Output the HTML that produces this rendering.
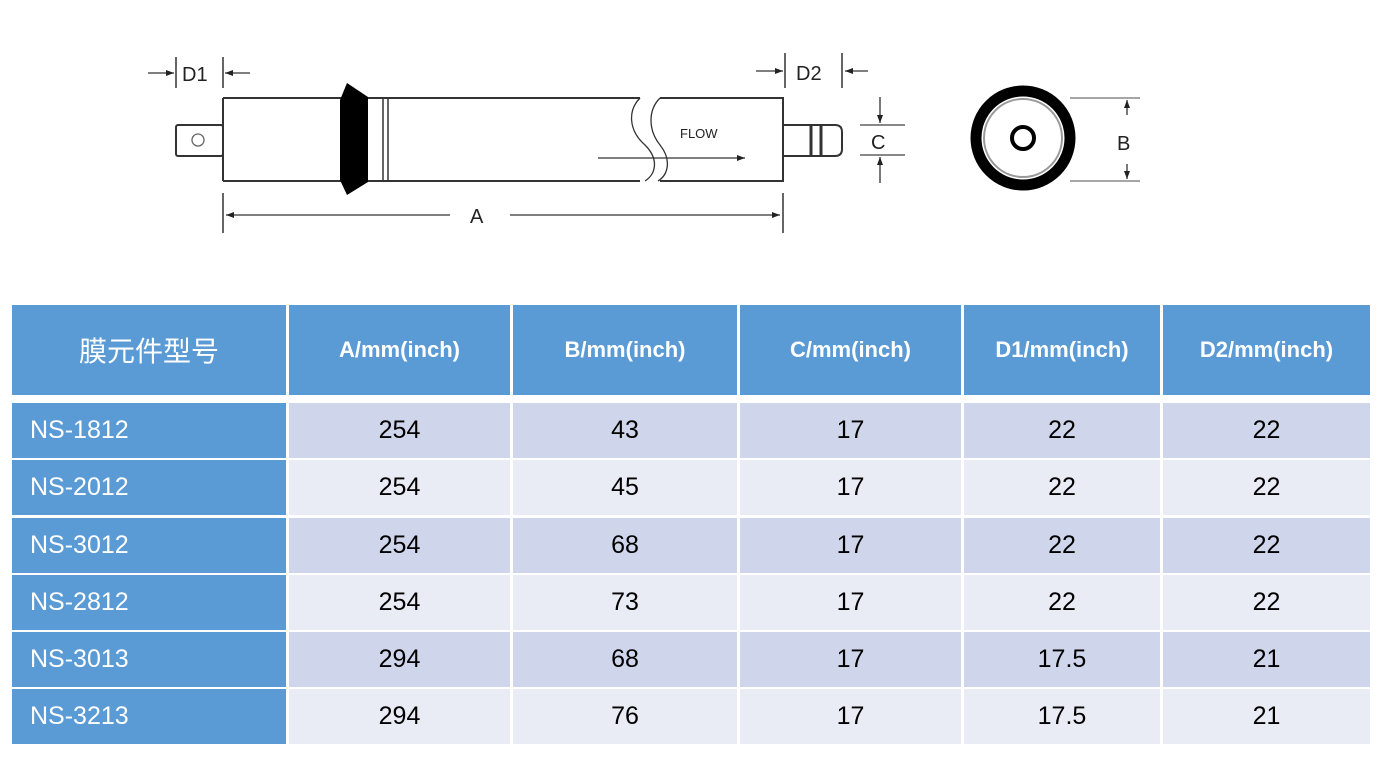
<!DOCTYPE html>
<html><head><meta charset="utf-8"><style>
body{margin:0;width:1385px;height:763px;background:#fff;position:relative;overflow:hidden;font-family:"Liberation Sans","Noto Sans CJK SC",sans-serif}
.c{position:absolute;display:flex;align-items:center;justify-content:center;font-size:25px;color:#000}
.h{background:#5B9BD5;color:#fff;font-weight:bold;font-size:22px}
.f{background:#5B9BD5;color:#fff;justify-content:flex-start;padding-left:18px;box-sizing:border-box}
.o{background:#CFD5EA}.e{background:#E9EBF5}
</style></head><body>
<svg width="1385" height="300" style="position:absolute;left:0;top:0" font-family="Liberation Sans, sans-serif">
<defs><marker id="ar" markerWidth="8" markerHeight="6" refX="8" refY="3" orient="auto" markerUnits="userSpaceOnUse"><path d="M0,0 L8,3 L0,6z" fill="#222"/></marker></defs>
<g stroke="#333" stroke-width="2" fill="none">
<path d="M223,98 H640 M223,181 H640 M223,98 V181"/>
<path d="M660,98 H783 V181 H660"/>
<path d="M640,98 C628,110 628,130 645,145 C660,160 655,175 645,181" stroke-width="1.3"/>
<path d="M660,98 C648,110 648,130 660,145 C672,160 668,175 658,181" stroke-width="1.3"/>
<rect x="176" y="125" width="47" height="31" rx="2"/>
<circle cx="198" cy="140" r="6" stroke-width="1.3" stroke="#666"/>
<path d="M383,98 V181 M388,98 V181" stroke-width="1.5"/>
<path d="M783,125 H835 Q842,125 842,132 V149 Q842,156 835,156 H783"/>
<path d="M811,125 V156 M821,125 V156" stroke-width="3"/>
<path d="M176,57 V88 M223,57 V88" stroke-width="1.5"/>
<path d="M148,73 H174" stroke-width="1.3" marker-end="url(#ar)"/>
<path d="M250,73 H225" stroke-width="1.3" marker-end="url(#ar)"/>
<path d="M785,53 V88 M842,53 V88" stroke-width="1.5"/>
<path d="M756,71 H783" stroke-width="1.3" marker-end="url(#ar)"/>
<path d="M868,71 H845" stroke-width="1.3" marker-end="url(#ar)"/>
<path d="M223,193 V233 M783,193 V233" stroke-width="1.5"/>
<path d="M450,215 H226" stroke-width="1.3" marker-end="url(#ar)"/>
<path d="M510,215 H780" stroke-width="1.3" marker-end="url(#ar)"/>
<path d="M598,158 H745" stroke-width="1.3" marker-end="url(#ar)"/>
<path d="M860,125 H905 M860,155 H905" stroke="#888" stroke-width="2"/>
<path d="M880,97 V123" stroke-width="1.3" marker-end="url(#ar)"/>
<path d="M880,183 V157" stroke-width="1.3" marker-end="url(#ar)"/>
<path d="M1070,98 H1140 M1070,181 H1140" stroke="#888" stroke-width="1.5"/>
<path d="M1127,115 V100" stroke-width="1.3" marker-end="url(#ar)"/>
<path d="M1127,164 V179" stroke-width="1.3" marker-end="url(#ar)"/>
</g>
<polygon points="340,100 347,83 368,97 368,182 347,195 340,180" fill="#000"/>
<circle cx="1023" cy="138" r="47" fill="none" stroke="#000" stroke-width="11"/>
<circle cx="1023" cy="138" r="39" fill="none" stroke="#999" stroke-width="2"/>
<circle cx="1023" cy="138" r="11" fill="none" stroke="#000" stroke-width="4"/>
<text x="182" y="81" font-size="20" fill="#222">D1</text>
<text x="796" y="80" font-size="20" fill="#222">D2</text>
<text x="470" y="223" font-size="20" fill="#222">A</text>
<text x="680" y="138" font-size="13" fill="#222">FLOW</text>
<text x="871" y="149" font-size="20" fill="#222">C</text>
<text x="1117" y="150" font-size="20" fill="#222">B</text>
</svg>
<div class="c h" style="left:12px;top:305px;width:274px;height:90px;font-size:28px;font-weight:normal">膜元件型号</div>
<div class="c h" style="left:289px;top:305px;width:221px;height:90px">A/mm(inch)</div>
<div class="c h" style="left:513px;top:305px;width:224px;height:90px">B/mm(inch)</div>
<div class="c h" style="left:740px;top:305px;width:221px;height:90px">C/mm(inch)</div>
<div class="c h" style="left:964px;top:305px;width:196px;height:90px">D1/mm(inch)</div>
<div class="c h" style="left:1163px;top:305px;width:207px;height:90px">D2/mm(inch)</div>
<script>
var rows=[["NS-1812","254","43","17","22","22"],["NS-2012","254","45","17","22","22"],["NS-3012","254","68","17","22","22"],["NS-2812","254","73","17","22","22"],["NS-3013","294","68","17","17.5","21"],["NS-3213","294","76","17","17.5","21"]];
var xs=[[12,274],[289,221],[513,224],[740,221],[964,196],[1163,207]];
var tops=[403,460,518,575,632,689];var h="";
rows.forEach(function(r,i){r.forEach(function(t,j){var cls=j==0?"f":(i%2==0?"o":"e");h+='<div class="c '+cls+'" style="left:'+xs[j][0]+'px;top:'+tops[i]+'px;width:'+xs[j][1]+'px;height:55px">'+t+'</div>';});});
document.write(h);
</script>
</body></html>
